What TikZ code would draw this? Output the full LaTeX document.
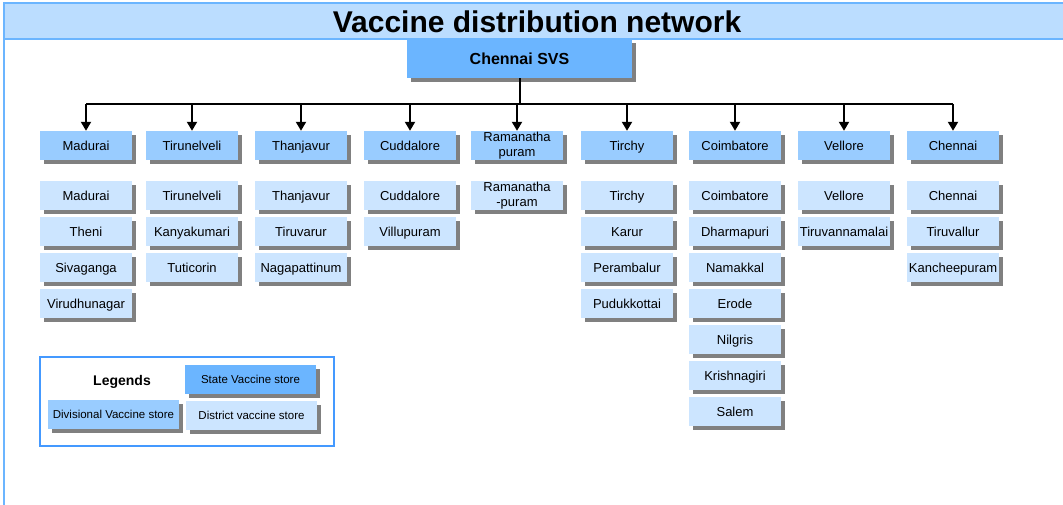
\documentclass[tikz,border=0pt]{standalone}
\usepackage{fontspec}
\setmainfont{Liberation Sans}
\usetikzlibrary{shadows,arrows.meta,calc}
\definecolor{bandfill}{HTML}{BBDDFF}
\definecolor{bandline}{HTML}{6BB5FF}
\definecolor{svsblue}{HTML}{6BB5FF}
\definecolor{divblue}{HTML}{99CCFF}
\definecolor{distblue}{HTML}{CCE5FF}
\definecolor{legblue}{HTML}{4499FF}
\definecolor{shadowgray}{HTML}{808080}
\tikzset{
  boxbase/.style={inner sep=0pt, align=center,
    drop shadow={shadow xshift=4pt, shadow yshift=-4pt, fill=shadowgray, opacity=1}},
  oneline/.style={text height=9.3pt, text depth=0pt},
  svsbox/.style={boxbase, fill=svsblue, minimum width=225pt, minimum height=39pt,
    text height=11.5pt, text depth=0pt,
    font=\bfseries\fontsize{16}{18}\selectfont},
  divbox/.style={boxbase, fill=divblue, minimum width=92pt, minimum height=29pt,
    font=\fontsize{13}{15.5}\selectfont},
  distbox/.style={boxbase, fill=distblue, minimum width=92pt, minimum height=29pt,
    font=\fontsize{13}{15.5}\selectfont},
  legbox/.style={boxbase, minimum width=131pt, minimum height=29pt,
    text height=8.2pt, text depth=0pt,
    font=\fontsize{11.5}{13}\selectfont},
  conn/.style={line width=2pt, draw=black},
  arr/.style={conn, -{Triangle[length=9pt,width=10pt]}},
}
\begin{document}
\begin{tikzpicture}[x=1pt,y=-1pt]
\useasboundingbox (0,0) rectangle (1063,505);
% title band
\fill[bandfill] (4,3) rectangle (1063,40);
\draw[bandline, line width=2pt] (1063,3.5) -- (4,3.5) -- (4,505);
\draw[bandline, line width=2pt] (4,39.5) -- (1063,39.5);
\node (title) at (537,22) {\bfseries\fontsize{30}{32}\selectfont Vaccine distribution network};
% state store
\node[svsbox] (svs) at (519.5,58.5) {Chennai SVS};
\coordinate (bus) at (519.5,104);
% divisions
\foreach \i/\x/\t/\s in {1/86/Madurai/oneline, 2/192/Tirunelveli/oneline, 3/301/Thanjavur/oneline,
  4/410/Cuddalore/oneline, 5/517/{Ramanatha\\puram}/{}, 6/627/Tirchy/oneline,
  7/735/Coimbatore/oneline, 8/844/Vellore/oneline, 9/953/Chennai/oneline}{
  \node[divbox,\s] (d\i) at (\x,145.5) {\t};
}
\draw[conn] (svs.south) -- (bus);
\draw[conn] (d1.north |- bus) -- (d9.north |- bus);
\foreach \i in {1,...,9}{
  \draw[arr] (d\i.north |- bus) -- (d\i.north);
}
% districts
\foreach \i/\list in {
  1/{Madurai,Theni,Sivaganga,Virudhunagar},
  2/{Tirunelveli,Kanyakumari,Tuticorin},
  3/{Thanjavur,Tiruvarur,Nagapattinum},
  4/{Cuddalore,Villupuram},
  6/{Tirchy,Karur,Perambalur,Pudukkottai},
  7/{Coimbatore,Dharmapuri,Namakkal,Erode,Nilgris,Krishnagiri,Salem},
  8/{Vellore,Tiruvannamalai},
  9/{Chennai,Tiruvallur,Kancheepuram}}{
  \foreach \n [count=\r] in \list {
    \node[distbox,oneline] (c\i r\r) at ($(d\i.center)+(0,{14+36*\r})$) {\n};
  }
}
\node[distbox] (c5r1) at ($(d5.center)+(0,50)$) {Ramanatha\\-puram};
% legend
\node[draw=legblue, line width=1.5pt, minimum width=294pt, minimum height=89pt, inner sep=0pt] (legend) at (187,401.5) {};
\node (legtitle) at (122,382) {\bfseries\fontsize{14}{16}\selectfont Legends};
\node[legbox, fill=svsblue] (legsvs) at (250.5,379.5) {State Vaccine store};
\node[legbox, fill=divblue] (legdiv) at (113.5,414.5) {Divisional Vaccine store};
\node[legbox, fill=distblue] (legdist) at (251.5,415) {District vaccine store};
\end{tikzpicture}
\end{document}
